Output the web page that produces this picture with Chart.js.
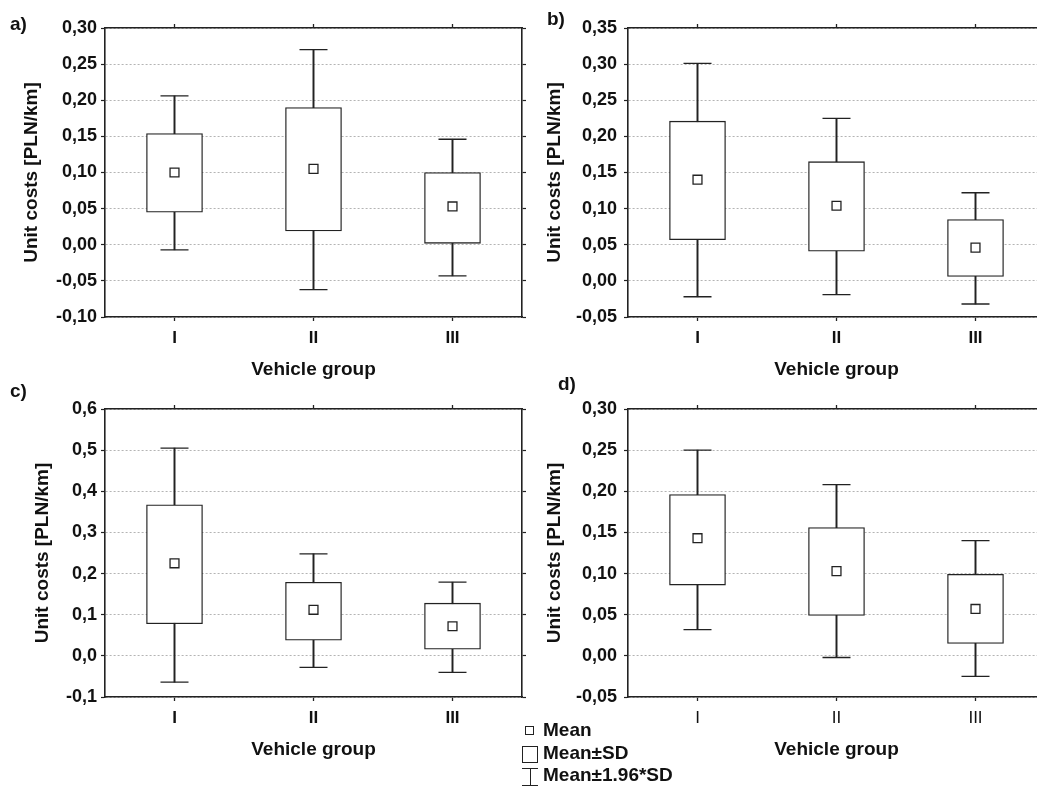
<!DOCTYPE html>
<html>
<head>
<meta charset="utf-8">
<script src="https://cdn.jsdelivr.net/npm/chart.js@4.4.0/dist/chart.umd.min.js"></script>
<style>
html,body{margin:0;padding:0;background:#fff;}
#wrap{position:relative;width:1037px;height:788px;overflow:hidden;background:#fff;font-family:'Liberation Sans',Arial,sans-serif;color:#111;}
canvas{position:absolute;}
.lab{position:absolute;font-weight:bold;font-size:19px;line-height:19px;color:#111;}
.leg{position:absolute;left:517px;top:720px;width:200px;height:68px;z-index:5;}
.row{position:absolute;left:26px;font-weight:bold;font-size:19px;line-height:20px;color:#111;white-space:nowrap;}
.sym{position:absolute;box-sizing:border-box;}
</style>
</head>
<body>
<div id="wrap">
  <canvas id="cA" width="530" height="390" style="left:0px;top:0px"></canvas>
  <canvas id="cB" width="540" height="390" style="left:517px;top:0px"></canvas>
  <canvas id="cC" width="530" height="390" style="left:0px;top:380px"></canvas>
  <canvas id="cD" width="540" height="390" style="left:517px;top:380px"></canvas>
  <div class="lab" style="left:10px;top:14px">a)</div>
  <div class="lab" style="left:547px;top:9px">b)</div>
  <div class="lab" style="left:10px;top:381px">c)</div>
  <div class="lab" style="left:558px;top:374px">d)</div>
  <div class="leg">
    <div class="sym" style="left:8px;top:6px;width:9px;height:9px;border:1.3px solid #222;background:#fff"></div>
    <div class="row" style="top:0px">Mean</div>
    <div class="sym" style="left:5px;top:26px;width:16px;height:17px;border:1.3px solid #222;background:#fff"></div>
    <div class="row" style="top:23px">Mean±SD</div>
    <div class="sym" style="left:5px;top:48px;width:16px;height:1.3px;background:#222"></div>
    <div class="sym" style="left:12.5px;top:48px;width:1.3px;height:17px;background:#222"></div>
    <div class="sym" style="left:5px;top:64.5px;width:16px;height:1.3px;background:#222"></div>
    <div class="row" style="top:45px">Mean±1.96*SD</div>
  </div>
</div>
<script>
// ---- data ----
const groups = ['I', 'II', 'III'];

// panel a
const meanA   = [0.100, 0.105, 0.053];
const sdLoA   = [0.045, 0.019, 0.002];
const sdHiA   = [0.154, 0.190, 0.100];
const ciLoA   = [-0.007, -0.062, -0.043];
const ciHiA   = [0.206, 0.270, 0.146];
const yTicksA = ['-0,10', '-0,05', '0,00', '0,05', '0,10', '0,15', '0,20', '0,25', '0,30'];

// panel b
const meanB   = [0.140, 0.104, 0.046];
const sdLoB   = [0.057, 0.041, 0.006];
const sdHiB   = [0.221, 0.165, 0.085];
const ciLoB   = [-0.022, -0.019, -0.032];
const ciHiB   = [0.301, 0.225, 0.122];
const yTicksB = ['-0,05', '0,00', '0,05', '0,10', '0,15', '0,20', '0,25', '0,30', '0,35'];

// panel c
const meanC   = [0.225, 0.112, 0.072];
const sdLoC   = [0.078, 0.038, 0.016];
const sdHiC   = [0.367, 0.179, 0.128];
const ciLoC   = [-0.064, -0.028, -0.040];
const ciHiC   = [0.505, 0.248, 0.179];
const yTicksC = ['-0,1', '0,0', '0,1', '0,2', '0,3', '0,4', '0,5', '0,6'];

// panel d
const meanD   = [0.143, 0.103, 0.057];
const sdLoD   = [0.086, 0.049, 0.015];
const sdHiD   = [0.196, 0.156, 0.099];
const ciLoD   = [0.032, -0.002, -0.025];
const ciHiD   = [0.250, 0.208, 0.140];
const yTicksD = ['-0,05', '0,00', '0,05', '0,10', '0,15', '0,20', '0,25', '0,30'];

const xTitle = 'Vehicle group';
const yTitle = 'Unit costs [PLN/km]';

// ---- rendering ----
const INK = '#222';
const FONT = "'Liberation Sans', Arial, sans-serif";
const PLOT_W = 417;

function build(id, p) {
  const W = p.W, H = 390;
  const right = p.L + PLOT_W;
  const fmt = (v, i) => (p.ticks[i] !== undefined ? p.ticks[i] : String(v).replace('.', ','));
  const noPad = s => { s.paddingLeft = 0; s.paddingRight = 0; };
  new Chart(document.getElementById(id), {
    type: 'bar',
    data: {
      labels: groups,
      datasets: [
        { type: 'line', label: 'Mean', data: p.mean, showLine: false, order: 0,
          pointStyle: 'rect', pointRadius: 6.3, pointHoverRadius: 6.3,
          pointBackgroundColor: '#fff', pointBorderColor: INK, pointBorderWidth: 1.3 },
        { type: 'bar', label: 'Mean±SD', data: p.sdLo.map((v, i) => [v, p.sdHi[i]]), order: 1,
          grouped: false, barThickness: 56, backgroundColor: '#fff', borderColor: INK,
          borderWidth: 1.3, borderSkipped: false },
        { type: 'line', label: 'cap hi', data: p.ciHi, showLine: false, order: 2,
          pointStyle: 'line', pointRadius: 14, pointHoverRadius: 14,
          pointBorderColor: INK, pointBorderWidth: 1.3 },
        { type: 'line', label: 'cap lo', data: p.ciLo, showLine: false, order: 2,
          pointStyle: 'line', pointRadius: 14, pointHoverRadius: 14,
          pointBorderColor: INK, pointBorderWidth: 1.3 },
        { type: 'bar', label: 'Mean±1.96*SD', data: p.ciLo.map((v, i) => [v, p.ciHi[i]]), order: 3,
          grouped: false, barThickness: 1.3, backgroundColor: INK, borderWidth: 0 }
      ]
    },
    options: {
      responsive: false,
      animation: false,
      events: [],
      layout: { padding: 0, autoPadding: false },
      plugins: { legend: { display: false }, tooltip: { enabled: false } },
      scales: {
        x: {
          type: 'category', position: 'bottom', offset: true,
          grid: { display: true, drawOnChartArea: false, drawTicks: true, offset: false,
                  tickLength: 4, tickColor: INK, tickWidth: 1.3 },
          border: { display: true, color: INK, width: 1.6 },
          ticks: { color: '#111', padding: 7,
                   font: { family: FONT, size: 17, weight: p.xBold ? 'bold' : 'normal' } },
          title: { display: true, text: xTitle, color: '#111',
                   font: { family: FONT, size: 19, weight: 'bold' }, padding: { top: 0, bottom: 8.6 } },
          afterFit: s => { s.height = H - p.B; noPad(s); }
        },
        x2: {
          type: 'category', position: 'top', offset: true,
          grid: { display: true, drawOnChartArea: false, drawTicks: true, offset: false,
                  tickLength: 4, tickColor: INK, tickWidth: 1.3 },
          border: { display: true, color: INK, width: 1.6 },
          ticks: { display: false },
          afterFit: s => { s.height = p.T; noPad(s); }
        },
        y: {
          type: 'linear', position: 'left', min: p.min, max: p.max,
          ticks: { stepSize: p.step, color: '#111', padding: p.tickPad,
                   font: { family: FONT, size: 18, weight: 'bold' }, callback: fmt },
          grid: { display: true, color: '#b4b4b4', lineWidth: 1, drawTicks: true,
                  tickLength: 4, tickColor: INK, tickWidth: 1.2, tickBorderDash: [] },
          border: { display: true, color: INK, width: 1.6, dash: [2, 2] },
          title: { display: true, text: yTitle, color: '#111',
                   font: { family: FONT, size: 19, weight: 'bold' }, padding: { top: p.titlePad, bottom: 0 } },
          afterFit: s => { s.width = p.L; }
        },
        y2: {
          type: 'linear', position: 'right', min: p.min, max: p.max,
          ticks: { display: false, stepSize: p.step },
          grid: { display: true, drawOnChartArea: false, drawTicks: true,
                  tickLength: 4, tickColor: INK, tickWidth: 1.2, tickBorderDash: [] },
          border: { display: true, color: INK, width: 1.6 },
          afterFit: s => { s.width = W - right; }
        }
      }
    }
  });
}

build('cA', { W: 530, L: 105, T: 28, B: 317, min: -0.10, max: 0.30, step: 0.05, ticks: yTicksA,
  mean: meanA, sdLo: sdLoA, sdHi: sdHiA, ciLo: ciLoA, ciHi: ciHiA, tickPad: 4, titlePad: 20.6, xBold: true });
build('cB', { W: 540, L: 111, T: 28, B: 317, min: -0.05, max: 0.35, step: 0.05, ticks: yTicksB,
  mean: meanB, sdLo: sdLoB, sdHi: sdHiB, ciLo: ciLoB, ciHi: ciHiB, tickPad: 7, titlePad: 26.1, xBold: true });
build('cC', { W: 530, L: 105, T: 29, B: 317, min: -0.1, max: 0.6, step: 0.1, ticks: yTicksC,
  mean: meanC, sdLo: sdLoC, sdHi: sdHiC, ciLo: ciLoC, ciHi: ciHiC, tickPad: 4, titlePad: 31.1, xBold: true });
build('cD', { W: 540, L: 111, T: 29, B: 317, min: -0.05, max: 0.30, step: 0.05, ticks: yTicksD,
  mean: meanD, sdLo: sdLoD, sdHi: sdHiD, ciLo: ciLoD, ciHi: ciHiD, tickPad: 7, titlePad: 26.1, xBold: false });
</script>
</body>
</html>
